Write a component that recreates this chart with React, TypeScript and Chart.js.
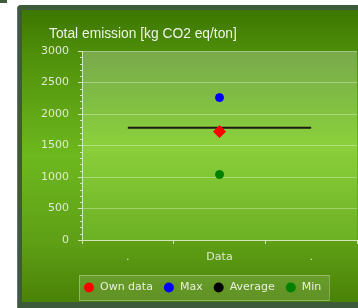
import React, { useEffect, useRef } from "react";
import { Chart, registerables } from "chart.js";

Chart.register(...registerables);

const seriesLabels = ["Own data", "Max", "Average", "Min"];
const seriesColors = ["#ff0000", "#0000ff", "#000000", "#008000"];
const ownData = [1720];
const maxData = [2260];
const averageData = [1780, 1780];
const minData = [1040];
const categoryPos = [3];
const averageSpan = [1, 5];
const xTickLabels: Record<number, string> = { 1: ".", 3: "Data", 5: "." };
const yTicks = [0, 500, 1000, 1500, 2000, 2500, 3000];
const titleText = "Total emission [kg CO2 eq/ton]";

const LIGHT = "#dfe9cf";

const bgPlugin = {
  id: "bgPlugin",
  beforeDraw(chart: any) {
    const ctx = chart.ctx as CanvasRenderingContext2D;
    const W = chart.width;
    const H = chart.height;
    ctx.save();
    ctx.fillStyle = "#ffffff";
    ctx.fillRect(0, 0, W, H);
    ctx.fillStyle = "#3b5c36";
    ctx.fillRect(0, 0, 7, 3);
    // panel border
    ctx.fillStyle = "#3d5a3a";
    ctx.beginPath();
    (ctx as any).roundRect(17, 5, W - 17 + 10, H - 5 + 10, 4);
    ctx.fill();
    ctx.fillStyle = "#627a5e";
    ctx.fillRect(17, 9, 1, H - 9);
    // panel inner gradient
    const g = ctx.createLinearGradient(0, 10, 0, 302);
    g.addColorStop(0, "#3c7600");
    g.addColorStop(0.15, "#4f8f0a");
    g.addColorStop(0.5, "#6db81e");
    g.addColorStop(0.8, "#5e9f16");
    g.addColorStop(1, "#4a8206");
    ctx.fillStyle = g;
    ctx.fillRect(22, 10, W - 22, 302 - 10);
    // plot area
    const a = chart.chartArea;
    const pg = ctx.createLinearGradient(0, a.top, 0, a.bottom);
    pg.addColorStop(0, "#79a94c");
    pg.addColorStop(0.25, "#80bd44");
    pg.addColorStop(0.5, "#8bd03b");
    pg.addColorStop(1, "#6cb024");
    ctx.fillStyle = pg;
    ctx.fillRect(a.left, a.top, a.right - a.left, a.bottom - a.top);
    // title
    ctx.fillStyle = "#eef3e6";
    ctx.font = "13.8px 'Liberation Sans', Arial, sans-serif";
    ctx.textBaseline = "alphabetic";
    ctx.textAlign = "left";
    ctx.fillText(titleText, 49, 38);
    ctx.restore();
  },
  afterDraw(chart: any) {
    const ctx = chart.ctx as CanvasRenderingContext2D;
    const a = chart.chartArea;
    const y = chart.scales.y;
    ctx.save();
    // minor ticks on y axis
    ctx.strokeStyle = "#d4e4bc";
    ctx.lineWidth = 1;
    for (let v = 0; v <= 3000; v += 100) {
      if (v % 500 === 0) continue;
      const py = Math.round(y.getPixelForValue(v)) + 0.5;
      ctx.beginPath();
      ctx.moveTo(a.left - 2, py);
      ctx.lineTo(a.left, py);
      ctx.stroke();
    }
    // legend
    ctx.font = "11px 'DejaVu Sans', sans-serif";
    const ds = chart.data.datasets;
    let cx = 89;
    const cy = 287.5;
    const items: { cx: number; tx: number; text: string; color: string }[] = [];
    let lastEnd = cx;
    ds.forEach((d: any) => {
      const tx = cx + 11;
      const tw = ctx.measureText(d.label).width;
      items.push({ cx, tx, text: d.label, color: d.legendColor });
      lastEnd = tx + tw;
      cx = lastEnd + 16;
    });
    const boxRight = Math.round(lastEnd + 8);
    ctx.fillStyle = "rgba(255,255,255,0.12)";
    ctx.fillRect(79, 275, boxRight - 79, 26);
    ctx.strokeStyle = "rgba(255,255,255,0.3)";
    ctx.strokeRect(79.5, 275.5, boxRight - 79, 25);
    items.forEach((it) => {
      ctx.fillStyle = it.color;
      ctx.beginPath();
      ctx.arc(it.cx, cy, 5, 0, Math.PI * 2);
      ctx.fill();
      ctx.fillStyle = "#e8efdc";
      ctx.textBaseline = "middle";
      ctx.textAlign = "left";
      ctx.fillText(it.text, it.tx, cy);
    });
    ctx.restore();
  },
};

export default function App() {
  const ref = useRef<HTMLCanvasElement>(null);
  useEffect(() => {
    if (!ref.current) return;
    const chart = new Chart(ref.current, {
      type: "scatter",
      data: {
        datasets: [
          {
            label: seriesLabels[0],
            data: ownData.map((v, i) => ({ x: categoryPos[i], y: v })),
            backgroundColor: seriesColors[0],
            borderColor: seriesColors[0],
            pointStyle: "rectRot",
            pointRadius: 6,
            legendColor: seriesColors[0],
          } as any,
          {
            label: seriesLabels[1],
            data: maxData.map((v, i) => ({ x: categoryPos[i], y: v })),
            backgroundColor: seriesColors[1],
            borderColor: seriesColors[1],
            pointRadius: 4,
            legendColor: seriesColors[1],
          } as any,
          {
            label: seriesLabels[2],
            type: "line",
            data: averageData.map((v, i) => ({ x: averageSpan[i], y: v })),
            borderColor: "#1b1b12",
            borderWidth: 2,
            pointRadius: 0,
            showLine: true,
            fill: false,
            legendColor: seriesColors[2],
          } as any,
          {
            label: seriesLabels[3],
            data: minData.map((v, i) => ({ x: categoryPos[i], y: v })),
            backgroundColor: seriesColors[3],
            borderColor: seriesColors[3],
            pointRadius: 4,
            legendColor: seriesColors[3],
          } as any,
        ],
      },
      options: {
        animation: false,
        responsive: false,
        devicePixelRatio: 1,
        layout: { autoPadding: false, padding: { top: 51, right: 1, left: 0, bottom: 0 } },
        plugins: {
          legend: { display: false },
          tooltip: { enabled: false },
          title: { display: false },
        },
        scales: {
          x: {
            type: "linear",
            min: 0,
            max: 6,
            afterFit: (s: any) => {
              s.height = 68;
              s.paddingLeft = 0;
              s.paddingRight = 0;
            },
            border: { color: "#d4e4bc", width: 1 },
            grid: {
              drawOnChartArea: false,
              tickLength: 4,
              tickColor: (c: any) =>
                c.tick && c.tick.value % 2 === 0 ? "#d4e4bc" : "rgba(0,0,0,0)",
            },
            ticks: {
              stepSize: 1,
              autoSkip: false,
              maxRotation: 0,
              padding: 7,
              color: LIGHT,
              font: { family: "'DejaVu Sans'", size: 11 },
              callback: (v: any) => xTickLabels[v as number] ?? "",
            },
          },
          y: {
            min: yTicks[0],
            max: yTicks[yTicks.length - 1],
            afterFit: (s: any) => {
              s.width = 82;
            },
            afterBuildTicks: (s: any) => {
              s.ticks = yTicks.map((v) => ({ value: v }));
            },
            border: { color: "#d4e4bc", width: 1 },
            grid: {
              color: "rgba(255,255,255,0.32)",
              tickColor: "#d4e4bc",
              tickLength: 4,
            },
            ticks: {
              padding: 9,
              color: LIGHT,
              font: { family: "'DejaVu Sans'", size: 11 },
              callback: (v: any) => String(v),
            },
          },
        },
      },
      plugins: [bgPlugin],
    });
    return () => chart.destroy();
  }, []);
  return (
    <div style={{ position: "absolute", left: 0, top: 0, width: 358, height: 308 }}>
      <canvas ref={ref} width={358} height={308} style={{ display: "block" }} />
    </div>
  );
}
